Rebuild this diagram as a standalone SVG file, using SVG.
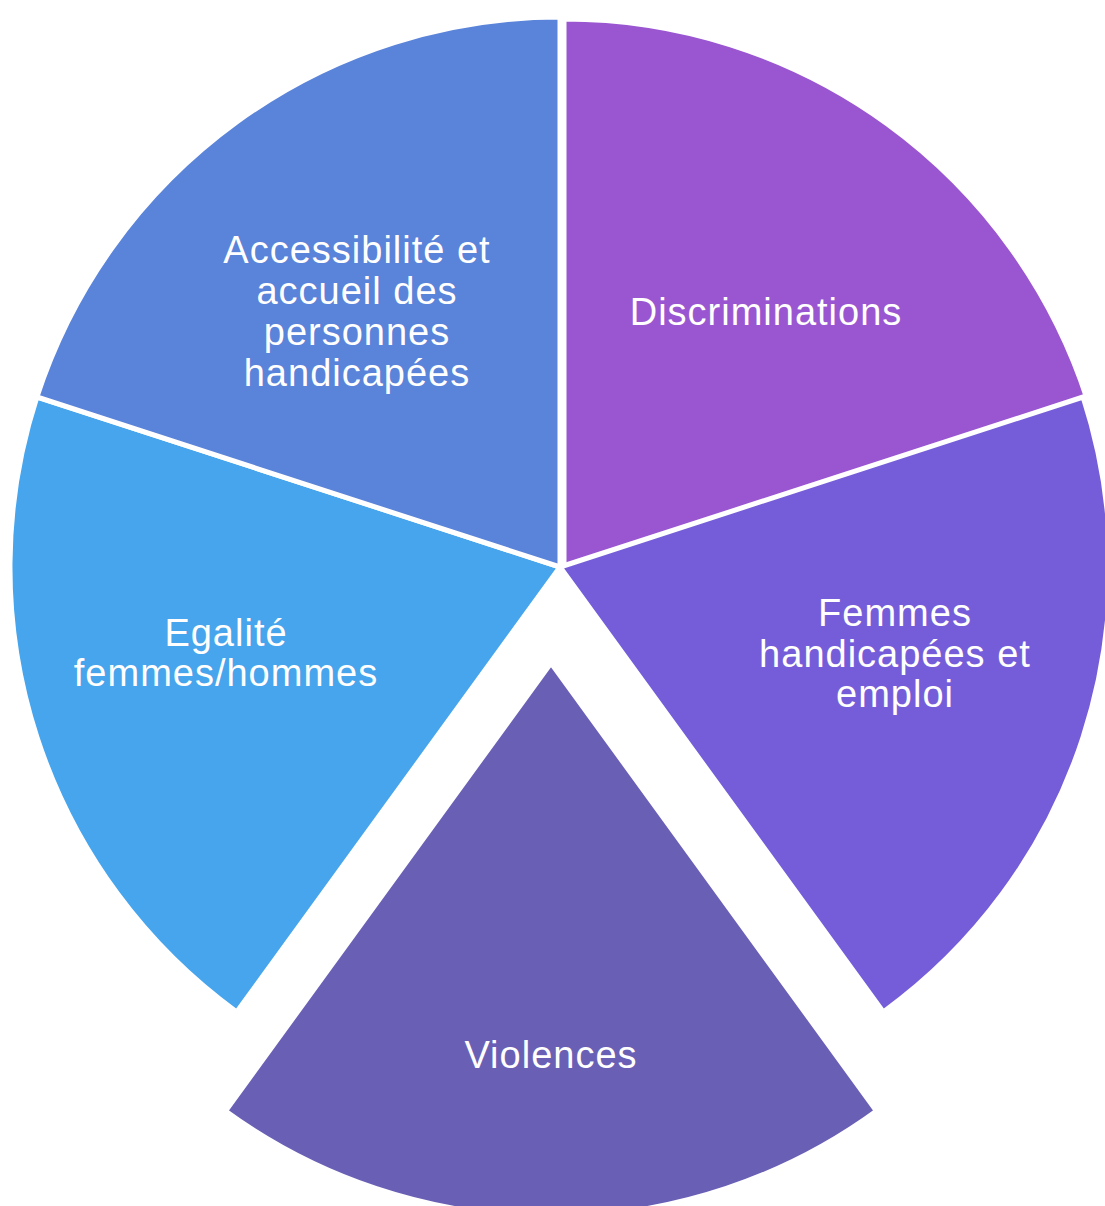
<svg xmlns="http://www.w3.org/2000/svg" width="1105" height="1206" viewBox="0 0 1105 1206">
<style>
.seg{stroke:#ffffff;stroke-width:5;stroke-linejoin:miter}
.lbl{font-family:"Liberation Sans",Arial,sans-serif;font-size:38px;fill:#ffffff;text-anchor:middle;letter-spacing:1px}
</style>
<rect width="1105" height="1206" fill="#ffffff"/>
<g id="node-discriminations" transform="translate(4,2)">
<path class="seg" fill="#9A56D1" d="M560,567 L560,17 A550,550 0 0 1 1083.1,397 Z"/>
<text class="lbl" x="762" y="323">Discriminations</text>
</g>
<g id="node-femmes-emploi">
<path class="seg" fill="#755DDA" d="M560,567 L1083.1,397 A550,550 0 0 1 883.3,1012 Z"/>
<text class="lbl" x="895" y="626">Femmes</text>
<text class="lbl" x="895" y="667">handicapées et</text>
<text class="lbl" x="895" y="707">emploi</text>
</g>
<g id="node-violences" transform="translate(-9,96)">
<path class="seg" fill="#6960B6" d="M560,567 L885.5,1015 A553,553 0 0 1 234.5,1015 Z"/>
<text class="lbl" x="560" y="972">Violences</text>
</g>
<g id="node-egalite">
<path class="seg" fill="#46A5EC" d="M560,567 L236.7,1012 A550,550 0 0 1 36.9,397 Z"/>
<text class="lbl" x="226" y="646">Egalité</text>
<text class="lbl" x="226" y="686">femmes/hommes</text>
</g>
<g id="node-accessibilite">
<path class="seg" fill="#5A83DA" d="M560,567 L36.9,397 A550,550 0 0 1 560,17 Z"/>
<text class="lbl" x="357" y="263">Accessibilité et</text>
<text class="lbl" x="357" y="304">accueil des</text>
<text class="lbl" x="357" y="345">personnes</text>
<text class="lbl" x="357" y="386">handicapées</text>
</g>
<g id="connectors"></g>
</svg>
